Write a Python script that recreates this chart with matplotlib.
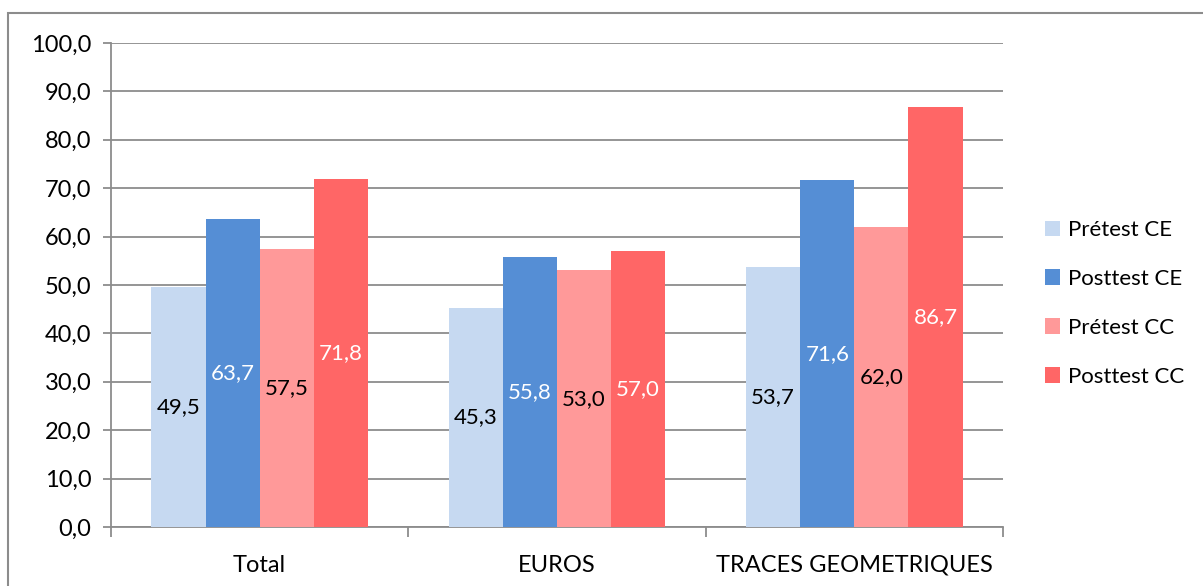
import matplotlib
matplotlib.use('Agg')
import matplotlib.pyplot as plt
from matplotlib.patches import Rectangle
import numpy as np

# Données du graphique
categories = ["Total", "EUROS", "TRACES GEOMETRIQUES"]
series = ["Prétest CE", "Posttest CE", "Prétest CC", "Posttest CC"]
pretest_ce = [49.5, 45.3, 53.7]
posttest_ce = [63.7, 55.8, 71.6]
pretest_cc = [57.5, 53.0, 62.0]
posttest_cc = [71.8, 57.0, 86.7]

couleurs = ['#C6D9F1', '#558ED5', '#FF9999', '#FF6666']
couleurs_texte = ['black', 'white', 'black', 'white']

plt.rcParams['font.family'] = ['Lato', 'DejaVu Sans']

fig = plt.figure(figsize=(12.03, 5.86), dpi=100)
ax = fig.add_axes([111/1203, 1 - 527/586, (1003 - 111)/1203, (527 - 43)/586])

x = np.arange(len(categories))
w = 0.182
valeurs = [pretest_ce, posttest_ce, pretest_cc, posttest_cc]
for i, vals in enumerate(valeurs):
    pos = x + (i - 1.5) * w
    bars = ax.bar(pos, vals, width=w, color=couleurs[i], label=series[i], zorder=3)
    for b, v in zip(bars, vals):
        ax.text(b.get_x() + b.get_width() / 2, v / 2, f"{v:.1f}".replace('.', ','),
                ha='center', va='center', fontsize=16, color=couleurs_texte[i], zorder=4)

ax.set_xlim(-0.5, 2.5)
ax.set_ylim(0, 100)
ax.set_yticks(np.arange(0, 101, 10))
ax.set_yticklabels([f"{t:.1f}".replace('.', ',') for t in np.arange(0, 101, 10)], fontsize=17)
ax.yaxis.grid(True, color='#8C8C8C', linewidth=1.3, zorder=0)

# ticks des catégories aux bords
ax.set_xticks([-0.5, 0.5, 1.5, 2.5])
ax.set_xticklabels([])
ax.set_xticks(x, minor=True)
ax.set_xticklabels(categories, minor=True, fontsize=17)
ax.tick_params(axis='x', which='major', length=7, color='#8C8C8C', width=1.3)
ax.tick_params(axis='x', which='minor', length=0, pad=20)
ax.tick_params(axis='y', length=6, color='#8C8C8C', width=1.3, pad=8)

for s in ['top', 'right']:
    ax.spines[s].set_visible(False)
for s in ['left', 'bottom']:
    ax.spines[s].set_color('#8C8C8C')
    ax.spines[s].set_linewidth(1.3)

leg = ax.legend(loc='center left', bbox_to_anchor=(1.047, 0.462), frameon=False,
                fontsize=16, handlelength=0.7, handleheight=0.7, labelspacing=1.3,
                handletextpad=0.35, borderpad=0, borderaxespad=0)

# cadre extérieur
fig.patches.append(Rectangle((8/1203, -0.01), 1.0, 1 - 13/586 + 0.01,
                             transform=fig.transFigure, fill=False,
                             edgecolor='#8C8C8C', linewidth=1.5))

fig.savefig('out.png', dpi=100)
